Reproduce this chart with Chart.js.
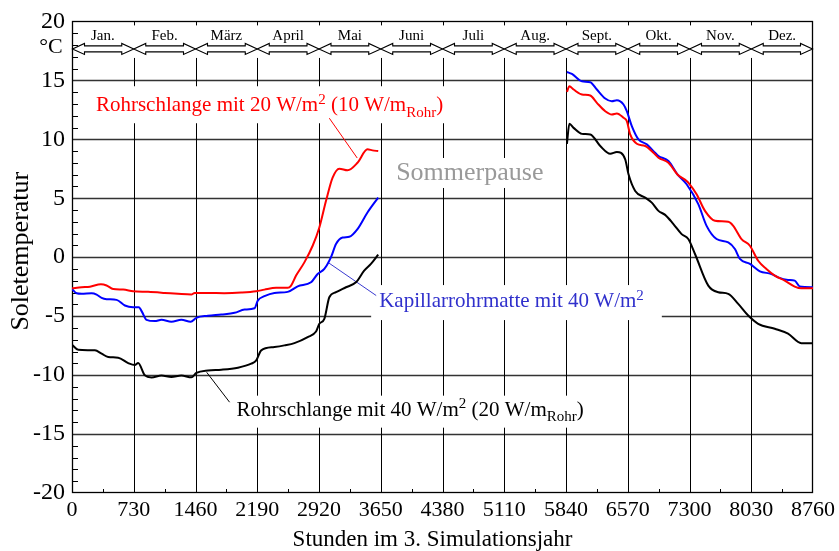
<!DOCTYPE html>
<html>
<head>
<meta charset="utf-8">
<script src="https://cdn.jsdelivr.net/npm/chart.js@4.4.1/dist/chart.umd.min.js"></script>
<style>
  html, body { margin: 0; padding: 0; background: #fff; }
  #c { display: block; }
</style>
</head>
<body>
<canvas id="c" width="839" height="551"></canvas>
<script>
// ---- axis structure ----
const months = ['Jan.', 'Feb.', 'März', 'April', 'Mai', 'Juni', 'Juli', 'Aug.', 'Sept.', 'Okt.', 'Nov.', 'Dez.'];
const xTicks = [0, 730, 1460, 2190, 2920, 3650, 4380, 5110, 5840, 6570, 7300, 8030, 8760];
const yTicks = [-20, -15, -10, -5, 0, 5, 10, 15, 20];

// ---- brine temperature, heating season Jan–May (hour, °C) ----
const redSpringH = [0, 114, 212, 342, 409, 487, 605, 723, 900, 1096, 1253, 1411, 1450, 1607, 1800, 2001, 2178, 2275, 2413, 2550, 2590, 2649, 2747, 2845, 2924, 3003, 3081, 3160, 3258, 3375, 3493, 3552, 3620];
const redSpringT = [-2.64, -2.55, -2.5, -2.3, -2.4, -2.7, -2.75, -2.89, -2.94, -3.03, -3.11, -3.17, -3.03, -3.03, -3.05, -3.0, -2.89, -2.75, -2.6, -2.6, -2.41, -1.56, -0.44, 0.97, 2.52, 4.78, 6.75, 7.51, 7.37, 8.01, 9.15, 9.06, 9.0];

const blueSpringH = [0, 55, 114, 232, 291, 350, 409, 527, 625, 723, 790, 829, 881, 979, 1058, 1175, 1293, 1403, 1470, 1607, 1765, 1922, 2040, 2158, 2196, 2275, 2393, 2550, 2668, 2826, 2904, 2983, 3062, 3121, 3199, 3278, 3375, 3493, 3620];
const blueSpringT = [-2.7, -3.06, -3.1, -3.06, -3.17, -3.45, -3.56, -3.62, -4.1, -4.24, -4.24, -4.66, -5.31, -5.42, -5.31, -5.48, -5.31, -5.48, -5.14, -4.97, -4.86, -4.72, -4.44, -4.33, -3.68, -3.31, -3.03, -2.94, -2.47, -2.13, -1.42, -1.0, 0.0, 1.12, 1.67, 1.73, 2.38, 3.79, 5.06];

const blackSpringH = [0, 74, 271, 350, 428, 546, 664, 743, 782, 861, 940, 1058, 1175, 1293, 1411, 1470, 1607, 1765, 1961, 2119, 2178, 2237, 2393, 2511, 2629, 2786, 2885, 2924, 2983, 3042, 3121, 3239, 3357, 3454, 3534, 3620];
const blackSpringT = [-7.42, -7.85, -7.9, -8.18, -8.47, -8.52, -8.98, -9.15, -8.98, -10.02, -10.2, -10.04, -10.16, -10.04, -10.19, -9.82, -9.6, -9.54, -9.37, -9.03, -8.75, -7.9, -7.62, -7.48, -7.29, -6.78, -6.3, -5.65, -5.23, -3.4, -2.97, -2.55, -2.13, -1.14, -0.57, 0.21];

// ---- brine temperature, heating season Sept–Dec (hour, °C) ----
const redAutumnH = [5851, 5880, 5930, 6028, 6127, 6205, 6304, 6382, 6441, 6520, 6559, 6599, 6677, 6776, 6874, 6933, 7051, 7160, 7266, 7286, 7384, 7483, 7601, 7758, 7817, 7915, 8014, 8112, 8209, 8308, 8426, 8544, 8622, 8760];
const redAutumnT = [14.02, 14.5, 14.22, 13.8, 13.71, 13.09, 12.38, 12.1, 12.19, 11.82, 11.54, 10.41, 9.62, 9.43, 8.86, 8.44, 8.01, 7.0, 6.47, 6.32, 5.34, 3.93, 3.09, 3.0, 2.66, 1.54, 0.97, -0.3, -1.0, -1.56, -1.99, -2.49, -2.64, -2.64];

const blueAutumnH = [5851, 5910, 6028, 6127, 6205, 6304, 6382, 6441, 6520, 6559, 6618, 6697, 6795, 6874, 6933, 7051, 7160, 7266, 7404, 7502, 7620, 7758, 7837, 7896, 8014, 8132, 8268, 8347, 8465, 8544, 8603, 8760];
const blueAutumnT = [15.71, 15.54, 14.92, 14.84, 14.22, 13.46, 13.23, 13.31, 12.95, 12.38, 11.12, 9.99, 9.57, 9.0, 8.58, 8.16, 7.0, 6.19, 4.5, 2.66, 1.54, 1.25, 0.69, -0.15, -0.57, -1.2, -1.42, -1.71, -1.93, -1.99, -2.49, -2.55];

const blackAutumnH = [5851, 5880, 5930, 6028, 6127, 6245, 6363, 6441, 6540, 6579, 6658, 6776, 6854, 6933, 7012, 7110, 7207, 7286, 7365, 7522, 7640, 7758, 7876, 7994, 8112, 8308, 8465, 8622, 8760];
const blackAutumnT = [9.62, 11.31, 10.97, 10.46, 10.41, 9.43, 8.77, 8.92, 8.3, 7.03, 5.62, 5.05, 4.63, 3.93, 3.59, 2.81, 1.96, 1.54, 0.27, -2.41, -2.97, -3.11, -3.96, -4.95, -5.65, -6.07, -6.49, -7.29, -7.29];

// ---- text styling ----
const SERIF = "'Liberation Serif', 'Times New Roman', Times, serif";

// annotations: text anchored at (hour, °C) of its left baseline, leader line in data units
const notes = [
  {
    segs: [{ t: 'Rohrschlange mit 20 W/m' }, { t: '2', sup: true }, { t: ' (10 W/m' }, { t: 'Rohr', sub: true }, { t: ')' }],
    h: 283, v: 12.38, color: '#ff0000', size: 21, padL: 4, padR: 4, boxUp: 25, boxDown: 12,
    lead: [[3042, 11.79], [3372, 8.41]], leadColor: '#ff0000'
  },
  {
    segs: [{ t: 'Kapillarrohrmatte mit 40 W/m' }, { t: '2', sup: true }],
    h: 3631, v: -4.23, color: '#3030cc', size: 21, padL: 8, padR: 18, boxUp: 22, boxDown: 13,
    lead: [[3030, -0.46], [3596, -3.25]], leadColor: '#3a3ad0'
  },
  {
    segs: [{ t: 'Rohrschlange mit 40 W/m' }, { t: '2', sup: true }, { t: ' (20 W/m' }, { t: 'Rohr', sub: true }, { t: ')' }],
    h: 1945, v: -13.44, color: '#000000', size: 21, padL: 4, padR: 4, boxUp: 20, boxDown: 12,
    lead: [[1592, -9.76], [1863, -12.3]], leadColor: '#000000'
  },
  {
    segs: [{ t: 'Sommerpause' }],
    h: 3832, v: 6.55, color: '#999999', size: 26, padL: 4, padR: 4, boxUp: 22, boxDown: 8,
    lead: null
  }
];

function pts(hs, ts) { return hs.map((h, i) => ({ x: h, y: ts[i] })); }
function series(springH, springT, autumnH, autumnT) {
  return pts(springH, springT).concat([{ x: 4745, y: null }], pts(autumnH, autumnT));
}

function drawRich(ctx, segs, x, y, size, measureOnly) {
  let cx = x;
  const small = Math.round(size * 0.72);
  for (const s of segs) {
    const fs = (s.sup || s.sub) ? small : size;
    ctx.font = fs + 'px ' + SERIF;
    const dy = s.sup ? -size * 0.36 : (s.sub ? size * 0.26 : 0);
    if (!measureOnly) ctx.fillText(s.t, cx, y + dy);
    cx += ctx.measureText(s.t).width;
  }
  return cx - x;
}

function seg(ctx, x1, y1, x2, y2) {
  ctx.beginPath(); ctx.moveTo(x1, y1); ctx.lineTo(x2, y2); ctx.stroke();
}

const framePlugin = {
  id: 'frame',
  beforeDatasetsDraw(chart) {
    const { ctx, chartArea: a, scales: { x, y } } = chart;
    ctx.save();

    // horizontal grid lines
    ctx.strokeStyle = '#333';
    ctx.lineWidth = 1.3;
    for (const v of yTicks) {
      if (v <= -20 || v >= 20) continue;
      const py = Math.round(y.getPixelForValue(v)) + 0.5;
      seg(ctx, a.left, py, a.right, py);
    }

    // vertical grid lines stop below the month band; short ticks at the top edge
    ctx.strokeStyle = '#000';
    ctx.lineWidth = 1;
    const yStop = y.getPixelForValue(16.9);
    for (const v of xTicks) {
      if (v <= 0 || v >= 8760) continue;
      const px = Math.round(x.getPixelForValue(v)) + 0.5;
      seg(ctx, px, a.bottom, px, yStop);
      seg(ctx, px, a.top, px, a.top + 4);
    }

    // minor ticks: x halfway between labels, y every degree
    for (let i = 0; i < xTicks.length - 1; i++) {
      const px = Math.round(x.getPixelForValue((xTicks[i] + xTicks[i + 1]) / 2)) + 0.5;
      seg(ctx, px, a.bottom, px, a.bottom - 4);
    }
    for (let v = -19; v <= 19; v++) {
      if (v % 5 === 0) continue;
      const py = Math.round(y.getPixelForValue(v)) + 0.5;
      seg(ctx, a.left, py, a.left + 6, py);
    }

    // month band: double-headed arrows and names
    const cy = a.top + 27.5, hl = 12, hh = 5.5, sh = 3;
    ctx.lineWidth = 1.1;
    ctx.fillStyle = '#fff';
    ctx.strokeStyle = '#000';
    for (let i = 0; i < months.length; i++) {
      const x0 = x.getPixelForValue(xTicks[i]) + (i === 0 ? 0.5 : 0);
      const x1 = x.getPixelForValue(xTicks[i + 1]) - (i === months.length - 1 ? 0.5 : 0);
      ctx.beginPath();
      ctx.moveTo(x0, cy);
      ctx.lineTo(x0 + hl, cy - hh);
      ctx.lineTo(x0 + hl, cy - sh);
      ctx.lineTo(x1 - hl, cy - sh);
      ctx.lineTo(x1 - hl, cy - hh);
      ctx.lineTo(x1, cy);
      ctx.lineTo(x1 - hl, cy + hh);
      ctx.lineTo(x1 - hl, cy + sh);
      ctx.lineTo(x0 + hl, cy + sh);
      ctx.lineTo(x0 + hl, cy + hh);
      ctx.closePath();
      ctx.fill();
      ctx.stroke();
    }
    ctx.fillStyle = '#000';
    ctx.font = '15px ' + SERIF;
    ctx.textAlign = 'center';
    ctx.textBaseline = 'alphabetic';
    for (let i = 0; i < months.length; i++) {
      const mx = x.getPixelForValue((xTicks[i] + xTicks[i + 1]) / 2);
      ctx.fillText(months[i], mx, a.top + 18.5);
    }

    // labels on white boxes with leader lines
    ctx.textAlign = 'left';
    for (const n of notes) {
      const tx = x.getPixelForValue(n.h);
      const ty = y.getPixelForValue(n.v);
      const w = drawRich(ctx, n.segs, tx, ty, n.size, true);
      ctx.fillStyle = '#fff';
      ctx.fillRect(tx - n.padL, ty - n.boxUp, w + n.padL + n.padR, n.boxUp + n.boxDown);
      ctx.fillStyle = n.color;
      drawRich(ctx, n.segs, tx, ty, n.size, false);
      if (n.lead) {
        ctx.strokeStyle = n.leadColor;
        ctx.lineWidth = 1;
        seg(ctx, x.getPixelForValue(n.lead[0][0]), y.getPixelForValue(n.lead[0][1]),
                 x.getPixelForValue(n.lead[1][0]), y.getPixelForValue(n.lead[1][1]));
      }
    }

    // plot frame
    ctx.strokeStyle = '#000';
    ctx.lineWidth = 1.3;
    ctx.strokeRect(Math.round(a.left) + 0.5, Math.round(a.top) + 0.5,
                   Math.round(a.width) - 1, Math.round(a.height) - 1);
    ctx.restore();
  },
  afterDraw(chart) {
    const { ctx, chartArea: a } = chart;
    ctx.save();
    ctx.fillStyle = '#000';
    ctx.font = '23px ' + SERIF;
    ctx.textAlign = 'center';
    ctx.textBaseline = 'alphabetic';
    ctx.fillText('Stunden im 3. Simulationsjahr', (a.left + a.right) / 2 - 10, a.bottom + 53);
    ctx.font = '22px ' + SERIF;
    ctx.fillText('°C', a.left - 21, a.top + 32);
    ctx.translate(21, (a.top + a.bottom) / 2 - 6);
    ctx.rotate(-Math.PI / 2);
    ctx.font = '26px ' + SERIF;
    ctx.textBaseline = 'middle';
    ctx.fillText('Soletemperatur', 0, 0);
    ctx.restore();
  }
};

const lineStyle = { borderWidth: 2, pointRadius: 0, fill: false, spanGaps: false, cubicInterpolationMode: 'monotone' };

new Chart(document.getElementById('c'), {
  type: 'line',
  data: {
    datasets: [
      Object.assign({ label: 'Rohrschlange mit 20 W/m²', data: series(redSpringH, redSpringT, redAutumnH, redAutumnT), borderColor: '#ff0000' }, lineStyle),
      Object.assign({ label: 'Kapillarrohrmatte mit 40 W/m²', data: series(blueSpringH, blueSpringT, blueAutumnH, blueAutumnT), borderColor: '#0000ff' }, lineStyle),
      Object.assign({ label: 'Rohrschlange mit 40 W/m²', data: series(blackSpringH, blackSpringT, blackAutumnH, blackAutumnT), borderColor: '#000000' }, lineStyle)
    ]
  },
  options: {
    responsive: false,
    animation: false,
    devicePixelRatio: 1,
    layout: { padding: { top: 20, right: 24, left: 0, bottom: 0 } },
    plugins: { legend: { display: false }, tooltip: { enabled: false }, title: { display: false } },
    scales: {
      x: {
        type: 'linear', min: 0, max: 8760,
        afterBuildTicks(s) { s.ticks = xTicks.map(v => ({ value: v })); },
        afterFit(s) { s.height = 58; },
        ticks: { autoSkip: false, maxRotation: 0, padding: 4, color: '#000',
                 font: { family: SERIF, size: 22 }, callback: v => String(v) },
        grid: { display: false, drawTicks: false },
        border: { display: false }
      },
      y: {
        type: 'linear', min: -20, max: 20,
        afterBuildTicks(s) { s.ticks = yTicks.map(v => ({ value: v })); },
        afterFit(s) { s.width = 72; },
        ticks: { padding: 7, color: '#000', font: { family: SERIF, size: 24 }, callback: v => String(v) },
        grid: { display: false, drawTicks: false },
        border: { display: false }
      }
    }
  },
  plugins: [framePlugin]
});
</script>
</body>
</html>
